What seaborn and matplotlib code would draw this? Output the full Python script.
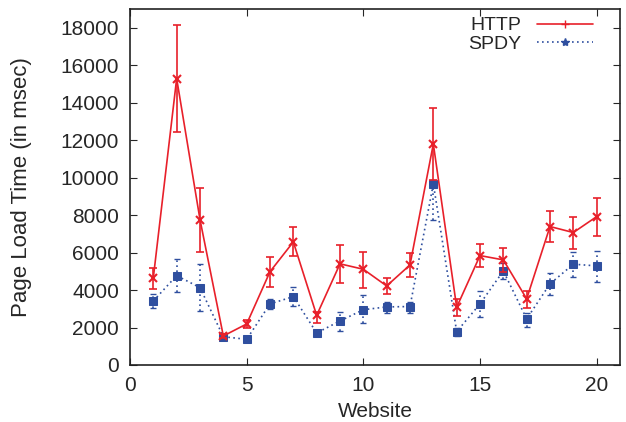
import numpy as np
import pandas as pd
import matplotlib
matplotlib.use("Agg")
import matplotlib.pyplot as plt
import seaborn as sns
from matplotlib.lines import Line2D

websites = list(range(1, 21))
http_mean = [4660, 15290, 7760, 1550, 2190, 4980, 6570, 2650, 5400, 5110,
             4220, 5340, 11800, 3080, 5840, 5610, 3530, 7390, 7070, 7920]
http_low = [4080, 12460, 6050, 1450, 2000, 4180, 5820, 2260, 4360, 4130,
            3780, 4720, 9880, 2620, 5220, 4980, 3030, 6590, 6200, 6890]
http_high = [5200, 18120, 9470, 1650, 2380, 5790, 7360, 2850, 6410, 6050,
             4660, 5970, 13710, 3530, 6450, 6270, 3950, 8210, 7890, 8920]
spdy_mean = [3420, 4770, 4130, 1510, 1370, 3260, 3650, 1710, 2350, 2950,
             3100, 3120, 9670, 1780, 3260, 5020, 2460, 4330, 5380, 5290]
spdy_low = [3030, 3900, 2900, 1420, 1300, 3010, 3150, 1600, 1820, 2230,
            2760, 2760, 7750, 1550, 2550, 4570, 2050, 3720, 4720, 4450]
spdy_high = [3780, 5660, 5380, 1600, 1450, 3510, 4150, 1820, 2850, 3740,
             3380, 3380, 9900, 2000, 3970, 5470, 2800, 4930, 6050, 6110]

RED = "#e8202a"
BLUE = "#2f4f9f"

sns.set_style("ticks")
plt.rcParams['font.family'] = ['Liberation Sans', 'DejaVu Sans']

fig = plt.figure(figsize=(6.26, 4.22), dpi=100)
ax = fig.add_axes([130/626, 1-365/422, 490/626, 356/422])

df = pd.DataFrame({"Website": websites * 2,
                   "Time": http_mean + spdy_mean,
                   "Protocol": ["HTTP"] * 20 + ["SPDY"] * 20})

sns.lineplot(data=df[df.Protocol == "HTTP"], x="Website", y="Time", ax=ax,
             color=RED, lw=1.2, marker="x", markersize=6, mew=1.5,
             markeredgecolor=RED, legend=False, zorder=3)
sns.lineplot(data=df[df.Protocol == "SPDY"], x="Website", y="Time", ax=ax,
             color=BLUE, lw=1.2, linestyle=(0, (1, 2)), marker="s", markersize=6,
             markeredgecolor=BLUE, markerfacecolor=BLUE, legend=False, zorder=2)

hm = np.array(http_mean)
eh = ax.errorbar(websites, hm, yerr=[hm - np.array(http_low), np.array(http_high) - hm],
                 fmt="none", ecolor=RED, elinewidth=1.2, capsize=3, capthick=1.2, zorder=3)
sm = np.array(spdy_mean)
es = ax.errorbar(websites, sm, yerr=[sm - np.array(spdy_low), np.array(spdy_high) - sm],
                 fmt="none", ecolor=BLUE, elinewidth=1.2, capsize=2, capthick=1.0, zorder=2)
for lc in es[2]:
    lc.set_linestyle((0, (1, 2)))

ax.set_xlim(0, 21)
ax.set_ylim(0, 19000)
ax.set_xticks([0, 5, 10, 15, 20])
ax.set_yticks(range(0, 18001, 2000))
ax.tick_params(direction="in", top=True, right=True, labelsize=15, length=5, width=0.8, pad=8)
for s in ax.spines.values():
    s.set_linewidth(1.2)
    s.set_color("#222222")
ax.set_xlabel("Website", fontsize=15, labelpad=5)
ax.set_ylabel("Page Load Time (in msec)", fontsize=16, labelpad=20)

handles = [Line2D([], [], color=RED, lw=1.2, marker="+", markersize=6),
           Line2D([], [], color=BLUE, lw=1.2, linestyle=(0, (1, 2)), marker="*", markersize=6)]
ax.legend(handles, ["HTTP", "SPDY"], loc="upper right", bbox_to_anchor=(0.955, 0.992),
          frameon=False, markerfirst=False,
          fontsize=14, handlelength=2.9, borderaxespad=0.0, labelspacing=0.05,
          handletextpad=0.8, borderpad=0.25)

fig.savefig("out.png", dpi=100)
